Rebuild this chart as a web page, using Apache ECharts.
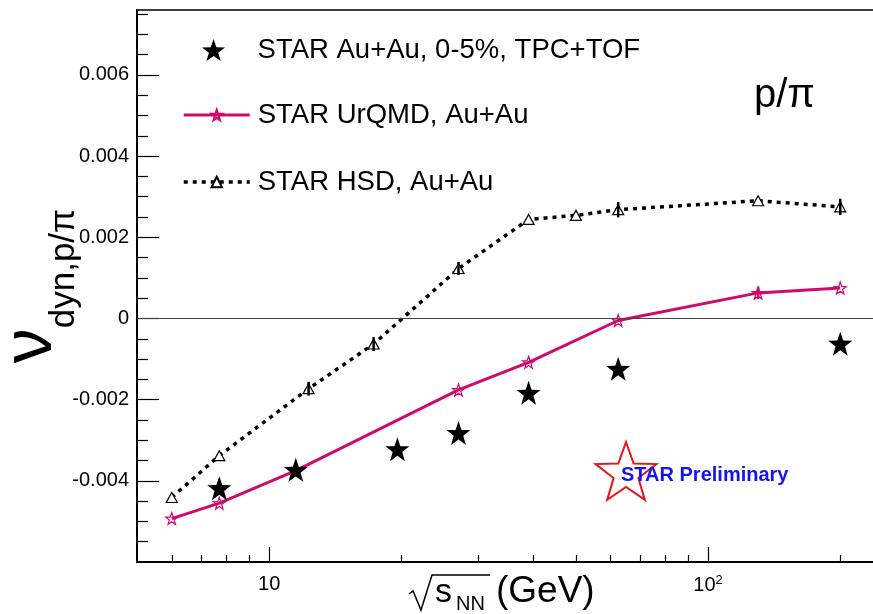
<!DOCTYPE html>
<html>
<head>
<meta charset="utf-8">
<script src="https://cdn.jsdelivr.net/npm/echarts@6/dist/echarts.min.js"></script>
<style>
  html, body { margin: 0; padding: 0; background: #fff; }
  #chart { width: 873px; height: 614px; }
</style>
</head>
<body>
<div id="chart"></div>
<script>
// STAR measurement, Au+Au 0-5% central (TPC+TOF)
const energyData = [7.7, 11.5, 19.6, 27, 39, 62.4, 200];
const nuDynData  = [-0.00418, -0.00373, -0.00322, -0.00282, -0.00183, -0.00124, -0.00062];

// UrQMD model
const energyUrqmd = [6, 7.7, 11.5, 27, 39, 62.4, 130, 200];
const nuDynUrqmd  = [-0.00493, -0.00455, -0.00375, -0.00176, -0.00108, -0.00005, 0.00063, 0.00075];
const errUrqmd    = [0, 0, 0, 0, 0, 0, 0.00015, 0];

// HSD model
const energyHsd = [6, 7.7, 12.3, 17.3, 27, 39, 50, 62.4, 130, 200];
const nuDynHsd  = [-0.00441, -0.00338, -0.00173, -0.00063, 0.00123, 0.00244, 0.00254, 0.00268, 0.00290, 0.00275];
const errHsd    = [0, 0, 0.00017, 0.00017, 0.00016, 0, 0, 0.00019, 0, 0.0002];

// Axis ticks
const xMajorTicks = [10, 100];
const xMinorTicks = [6, 7, 8, 9, 20, 30, 40, 50, 60, 70, 80, 90, 200];
const yLabelTicks = [-0.004, -0.002, 0, 0.002, 0.004, 0.006];
const yMinorTicks = [-0.0055, -0.005, -0.0045, -0.0035, -0.003, -0.0025, -0.0015, -0.001, -0.0005,
                     0.0005, 0.001, 0.0015, 0.0025, 0.003, 0.0035, 0.0045, 0.005, 0.0055,
                     0.0065, 0.007, 0.0075];

const FONT = 'Liberation Sans, Arial, Helvetica, sans-serif';
const PINK = '#cf0a6c';
const STAR = 'path://M0,-10L2.35,-3.24L9.51,-3.09L3.8,1.24L5.88,8.09L0,4L-5.88,8.09L-3.8,1.24L-9.51,-3.09L-2.35,-3.24Z';

const NAME_DATA  = 'STAR Au+Au, 0-5%, TPC+TOF';
const NAME_URQMD = 'STAR UrQMD, Au+Au';
const NAME_HSD   = 'STAR HSD, Au+Au';

function zip(xs, ys) { return xs.map((x, i) => [x, ys[i]]); }
function bars(xs, ys, es) {
  return xs.map((x, i) => [x, ys[i] - es[i], ys[i] + es[i]]).filter((d, i) => es[i] > 0);
}

// Outline of the star in the "STAR Preliminary" tag
function starPoints(cx, cy, R, r) {
  const pts = [];
  for (let k = 0; k < 10; k++) {
    const a = -Math.PI / 2 + k * Math.PI / 5;
    const rad = k % 2 === 0 ? R : r;
    pts.push([cx + rad * Math.cos(a), cy + rad * Math.sin(a)]);
  }
  return pts;
}

const chart = echarts.init(document.getElementById('chart'), null, { renderer: 'canvas' });

const errorBarSeries = (name, xs, ys, es, color) => ({
  type: 'custom',
  name: name,
  xAxisIndex: 0,
  yAxisIndex: 0,
  z: 4,
  silent: true,
  data: bars(xs, ys, es),
  renderItem: (params, api) => {
    const p1 = api.coord([api.value(0), api.value(1)]);
    const p2 = api.coord([api.value(0), api.value(2)]);
    return { type: 'line', shape: { x1: p1[0], y1: p1[1], x2: p2[0], y2: p2[1] },
             style: { stroke: color, lineWidth: 2.5 } };
  }
});

const option = {
  animation: false,
  backgroundColor: '#fff',
  grid: {
    left: 137, top: 10, width: 738, height: 552,
    outerBoundsMode: 'none', containLabel: false,
    show: true, borderColor: '#000', borderWidth: 1.5, backgroundColor: 'transparent'
  },
  legend: [
    {
      orient: 'vertical', left: 197, top: 31,
      itemWidth: 66, itemHeight: 22,
      data: [NAME_DATA],
      textStyle: { fontFamily: FONT, fontSize: 27.5, color: '#000', padding: [0, 0, 0, 6] },
      selectedMode: false
    },
    {
      orient: 'vertical', left: 177, top: 96,
      itemWidth: 66, itemHeight: 13, itemGap: 39,
      data: [
        { name: NAME_URQMD, lineStyle: { width: 3, color: PINK } },
        { name: NAME_HSD, lineStyle: { width: 3.5, color: '#000', type: [4, 5] } }
      ],
      textStyle: { fontFamily: FONT, fontSize: 27.5, color: '#000', padding: [0, 0, 0, 3] },
      selectedMode: false
    }
  ],
  xAxis: [
    {
      type: 'log', logBase: 10, min: 5, max: 240,
      axisLine: { show: true, onZero: false, lineStyle: { color: '#000', width: 2 } },
      axisTick: { show: true, inside: true, length: 15, customValues: xMajorTicks,
                  lineStyle: { color: '#000', width: 1.2 } },
      axisLabel: {
        customValues: xMajorTicks, margin: 12,
        fontFamily: FONT, fontSize: 20, color: '#000',
        formatter: v => Math.round(v) === 100 ? '10{sup|2}' : '10',
        rich: { sup: { fontFamily: FONT, fontSize: 13, color: '#000', verticalAlign: 'top', padding: [0, 0, 10, 0] } }
      },
      splitLine: { show: false }
    },
    {
      type: 'log', logBase: 10, min: 5, max: 240, position: 'bottom',
      axisLine: { show: false, onZero: false },
      axisTick: { show: true, inside: true, length: 7, customValues: xMinorTicks,
                  lineStyle: { color: '#000', width: 1.2 } },
      axisLabel: { show: false },
      splitLine: { show: false }
    }
  ],
  yAxis: [
    {
      type: 'value', min: -0.006, max: 0.0076,
      axisLine: { show: true, onZero: false, lineStyle: { color: '#000', width: 2 } },
      axisTick: { show: true, inside: true, length: 22, customValues: yLabelTicks,
                  lineStyle: { color: '#000', width: 1.2 } },
      axisLabel: {
        customValues: yLabelTicks, margin: 8,
        fontFamily: FONT, fontSize: 20, color: '#000',
        formatter: v => Math.abs(v) < 1e-9 ? '0' : v.toFixed(3)
      },
      splitLine: { show: false },
      name: '{nu|ν}{sub|dyn,p/π}',
      nameLocation: 'middle',
      nameRotate: 90,
      nameGap: 55,
      nameMoveOverlap: false,
      nameTextStyle: {
        rich: {
          nu: { fontFamily: FONT, fontSize: 70, color: '#000', verticalAlign: 'bottom', padding: [0, 0, 15, 0] },
          sub: { fontFamily: FONT, fontSize: 35, color: '#000', verticalAlign: 'bottom' }
        }
      }
    },
    {
      type: 'value', min: -0.006, max: 0.0076, position: 'left',
      axisLine: { show: false, onZero: false },
      axisTick: { show: true, inside: true, length: 11, customValues: yMinorTicks,
                  lineStyle: { color: '#000', width: 1.2 } },
      axisLabel: { show: false },
      splitLine: { show: false }
    }
  ],
  series: [
    {
      type: 'line',
      name: NAME_HSD,
      data: zip(energyHsd, nuDynHsd),
      symbol: 'triangle', symbolSize: [11, 10], showAllSymbol: true,
      itemStyle: { color: '#fff', borderColor: '#000', borderWidth: 1.2 },
      lineStyle: { color: '#000', width: 3.5, type: [4, 5] },
      z: 3,
      emphasis: { disabled: true }
    },
    {
      type: 'line',
      name: NAME_URQMD,
      data: zip(energyUrqmd, nuDynUrqmd),
      symbol: STAR, symbolSize: 12, showAllSymbol: true,
      itemStyle: { color: 'rgba(255,255,255,0)', borderColor: PINK, borderWidth: 1.2 },
      lineStyle: { color: PINK, width: 3 },
      z: 3,
      emphasis: { disabled: true },
      markLine: {
        silent: true, symbol: 'none', animation: false,
        label: { show: false },
        lineStyle: { color: '#444', width: 1.2, type: 'solid' },
        data: [{ yAxis: 0 }]
      }
    },
    errorBarSeries('hsd-err', energyHsd, nuDynHsd, errHsd, '#000'),
    errorBarSeries('urqmd-err', energyUrqmd, nuDynUrqmd, errUrqmd, PINK),
    {
      type: 'scatter',
      name: NAME_DATA,
      data: zip(energyData, nuDynData),
      symbol: STAR, symbolSize: 24,
      itemStyle: { color: '#000', opacity: 1 },
      z: 5,
      emphasis: { disabled: true }
    }
  ],
  graphic: [
    {
      type: 'text', left: 754, top: 76,
      style: { text: 'p/π', font: '40px ' + FONT, fill: '#000' }
    },
    {
      type: 'polygon', silent: true,
      shape: { points: starPoints(626, 474, 32, 13) },
      style: { fill: '#fff', stroke: '#e8141c', lineWidth: 2 }
    },
    {
      type: 'text', left: 621, top: 465,
      style: { text: 'STAR Preliminary', font: 'bold 20px ' + FONT, fill: '#1414ee' }
    },
    // x-axis title: sqrt(s_NN) (GeV)
    {
      type: 'polyline', silent: true,
      shape: { points: [[409, 594], [413, 591], [421, 610], [432, 575], [490, 575]] },
      style: { stroke: '#000', lineWidth: 1.5, fill: null }
    },
    {
      type: 'text', left: 435, top: 576,
      style: { text: 's', font: '34px ' + FONT, fill: '#000' }
    },
    {
      type: 'text', left: 456, top: 594,
      style: { text: 'NN', font: '20px ' + FONT, fill: '#000' }
    },
    {
      type: 'text', left: 496, top: 573,
      style: { text: '(GeV)', font: '37px ' + FONT, fill: '#000' }
    }
  ]
};

chart.setOption(option);
</script>
</body>
</html>
